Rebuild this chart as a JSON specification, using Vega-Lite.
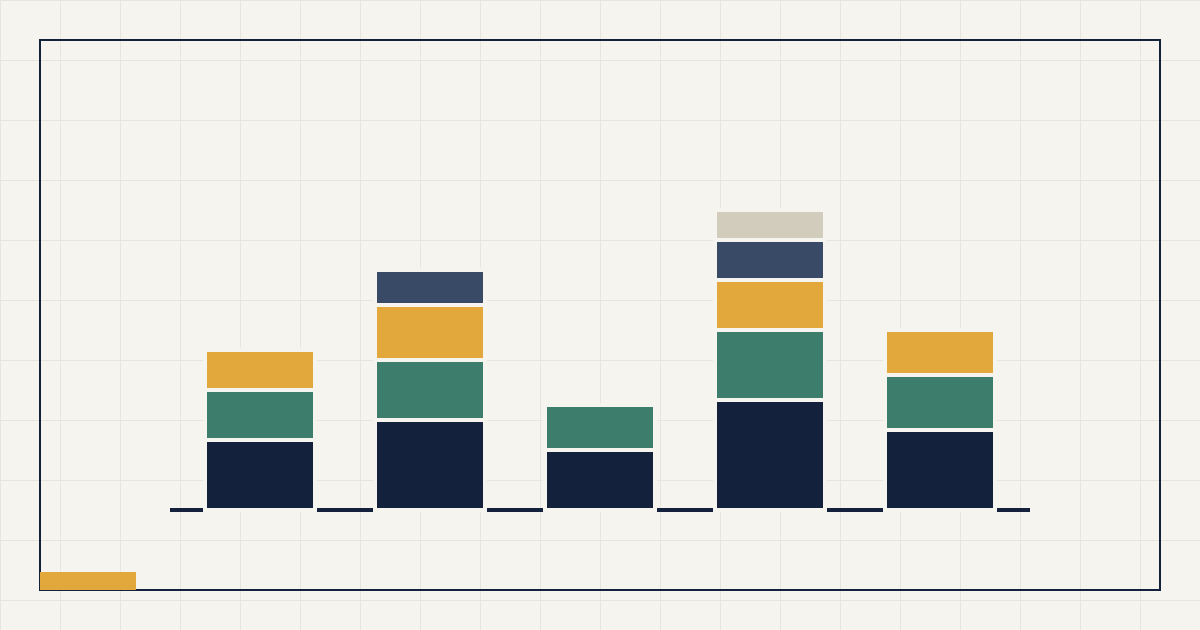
{
  "$schema": "https://vega.github.io/schema/vega-lite/v6.json",
  "width": 1200,
  "height": 630,
  "autosize": {"type": "fit", "contains": "padding"},
  "padding": 0,
  "background": "#f5f4ef",
  "config": {"view": {"stroke": null}},
  "data": {
    "values": [
      {"group": "A", "series": "s1", "value": 7},
      {"group": "A", "series": "s2", "value": 5},
      {"group": "A", "series": "s3", "value": 4},
      {"group": "B", "series": "s1", "value": 9},
      {"group": "B", "series": "s2", "value": 6},
      {"group": "B", "series": "s3", "value": 5.5},
      {"group": "B", "series": "s4", "value": 3.5},
      {"group": "C", "series": "s1", "value": 6},
      {"group": "C", "series": "s2", "value": 4.5},
      {"group": "D", "series": "s1", "value": 11},
      {"group": "D", "series": "s2", "value": 7},
      {"group": "D", "series": "s3", "value": 5},
      {"group": "D", "series": "s4", "value": 4},
      {"group": "D", "series": "s5", "value": 3},
      {"group": "E", "series": "s1", "value": 8},
      {"group": "E", "series": "s2", "value": 5.5},
      {"group": "E", "series": "s3", "value": 4.5}
    ]
  },
  "layer": [
    {
      "layer": [
        {
          "mark": {"type": "rect", "fill": null, "stroke": "#14213d", "strokeWidth": 2},
          "encoding": {
            "x": {"datum": 4, "type": "quantitative",
              "scale": {"domain": [0, 120], "nice": false, "zero": false},
              "axis": {"grid": true, "values": [0,6,12,18,24,30,36,42,48,54,60,66,72,78,84,90,96,102,108,114,120], "labels": false, "ticks": false, "domain": false, "title": null, "gridColor": "#e8e5dc", "gridWidth": 1}},
            "x2": {"datum": 116},
            "y": {"datum": 47, "type": "quantitative",
              "scale": {"domain": [-12, 51], "nice": false, "zero": false},
              "axis": {"grid": true, "values": [51,45,39,33,27,21,15,9,3,-3,-9], "labels": false, "ticks": false, "domain": false, "title": null, "gridColor": "#e8e5dc", "gridWidth": 1}},
            "y2": {"datum": -8}
          }
        },
        {
          "mark": {"type": "rect", "fill": "#e3a83c"},
          "encoding": {
            "x": {"datum": 4, "type": "quantitative"},
            "x2": {"datum": 13.6},
            "y": {"datum": -6.2, "type": "quantitative"},
            "y2": {"datum": -8}
          }
        },
        {
          "mark": {"type": "rule", "stroke": "#14213d", "strokeWidth": 3},
          "encoding": {
            "x": {"datum": 17, "type": "quantitative"},
            "x2": {"datum": 103},
            "y": {"datum": 0, "type": "quantitative"}
          }
        }
      ]
    },
    {
      "mark": {"type": "bar", "stroke": "#f5f4ef", "strokeWidth": 4},
      "encoding": {
        "x": {"field": "group", "type": "nominal",
          "scale": {"range": [170, 1030], "paddingInner": 0.352941, "paddingOuter": 0.205882},
          "axis": null},
        "y": {"field": "value", "type": "quantitative", "stack": "zero"},
        "color": {"field": "series", "type": "nominal",
          "scale": {"domain": ["s1","s2","s3","s4","s5"], "range": ["#14213d","#3d7d6b","#e3a83c","#394a66","#d1ccbb"]},
          "legend": null},
        "order": {"field": "series", "sort": "ascending"}
      }
    }
  ],
  "resolve": {"scale": {"x": "independent"}}
}
